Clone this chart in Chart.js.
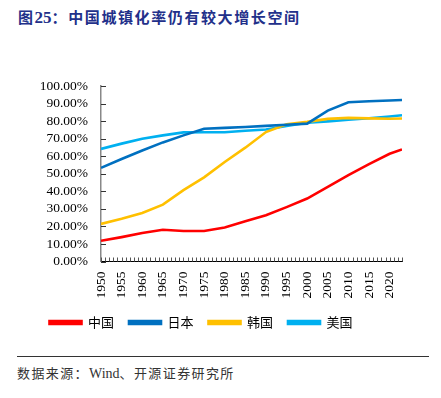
<!DOCTYPE html>
<html>
<head>
<meta charset="utf-8">
<script src="https://cdn.jsdelivr.net/npm/chart.js@4/dist/chart.umd.min.js"></script>
<style>
  html, body { margin: 0; padding: 0; background: #fff; }
  body { width: 441px; height: 398px; position: relative; overflow: hidden; }
  #title { position: absolute; left: 18px; top: 6px; font: bold 15px "Noto Sans CJK SC", sans-serif; color: #22308a; letter-spacing: 1.6px; white-space: nowrap; }
  #title .num { font-family: "Liberation Serif", serif; font-size: 17px; letter-spacing: 0; }
  #wrap { position: absolute; left: 0; top: 65px; width: 441px; height: 274px; }
  #rule { position: absolute; left: 17px; top: 356px; width: 412px; height: 0; border-top: 1px solid #333; }
  #src { position: absolute; left: 17px; top: 363px; font: 13px "Noto Sans CJK SC", sans-serif; color: #333; letter-spacing: 1.4px; white-space: nowrap; }
  #src .en { font-family: "Liberation Serif", serif; font-size: 14px; letter-spacing: 0; }
</style>
</head>
<body>
<div id="title">图<span class="num">25</span>：中国城镇化率仍有较大增长空间</div>
<div id="wrap"><canvas id="c"></canvas></div>
<div id="rule"></div>
<div id="src">数据来源：<span class="en">Wind</span>、开源证券研究所</div>
<script>
const years = [1950, 1955, 1960, 1965, 1970, 1975, 1980, 1985, 1990, 1995, 2000, 2005, 2010, 2015, 2020, 2023];
const china = [11.8, 13.9, 16.2, 18.1, 17.4, 17.4, 19.4, 22.9, 26.4, 31.0, 35.9, 42.5, 49.2, 55.5, 61.4, 63.9];
const japan = [53.4, 58.4, 63.3, 67.9, 71.9, 75.7, 76.2, 76.7, 77.3, 78.0, 78.6, 86.0, 90.8, 91.4, 91.8, 92.1];
const korea = [21.4, 24.4, 27.7, 32.4, 40.7, 48.0, 56.7, 64.9, 73.8, 78.2, 79.6, 81.3, 81.9, 81.6, 81.4, 81.5];
const usa   = [64.2, 67.2, 70.0, 71.9, 73.6, 73.7, 73.7, 74.5, 75.3, 77.3, 79.1, 79.9, 80.8, 81.7, 82.7, 83.4];
const seriesNames = ['中国', '日本', '韩国', '美国'];
const seriesColors = ['#FF0000', '#0070C0', '#FFC000', '#00B0F0'];
const yTicks = [0, 10, 20, 30, 40, 50, 60, 70, 80, 90, 100];

const toPts = arr => arr.map((v, i) => ({ x: years[i], y: v }));
const allSeries = [china, japan, korea, usa];

// inward tick marks drawn at the scales' own tick positions
const inwardTicks = {
  id: 'inwardTicks',
  afterDatasetsDraw(chart) {
    const { ctx, scales: { x, y } } = chart;
    ctx.save();
    ctx.lineWidth = 1;
    ctx.strokeStyle = '#333';
    y.ticks.forEach(t => {
      const py = Math.round(y.getPixelForValue(t.value)) + 0.5;
      ctx.beginPath();
      ctx.moveTo(y.right, py);
      ctx.lineTo(y.right + 5, py);
      ctx.stroke();
    });
    ctx.strokeStyle = '#555';
    x.ticks.forEach(t => {
      const px = Math.round(x.getPixelForValue(t.value)) + 0.5;
      ctx.beginPath();
      ctx.moveTo(px, x.top);
      ctx.lineTo(px, x.top - 4);
      ctx.stroke();
    });
    ctx.restore();
  }
};

new Chart(document.getElementById('c'), {
  type: 'line',
  data: {
    datasets: allSeries.map((s, i) => ({
      label: seriesNames[i],
      data: toPts(s),
      borderColor: seriesColors[i],
      backgroundColor: seriesColors[i],
      borderWidth: 2.6,
      pointRadius: 0,
      tension: 0,
      fill: false
    }))
  },
  plugins: [inwardTicks],
  options: {
    responsive: true,
    maintainAspectRatio: false,
    animation: false,
    layout: { padding: { left: 0, right: 39, top: 0, bottom: 0 } },
    plugins: {
      tooltip: { enabled: false },
      legend: {
        position: 'bottom',
        labels: {
          boxWidth: 32,
          boxHeight: 3,
          padding: 15,
          color: '#000',
          font: { family: '"Noto Sans CJK SC", sans-serif', size: 13 }
        }
      }
    },
    scales: {
      x: {
        type: 'linear',
        min: 1950,
        max: 2023,
        afterFit: s => { s.height = 39.5; },
        grid: { display: true, drawOnChartArea: false, drawTicks: false },
        border: { display: true, color: '#000', width: 1 },
        ticks: {
          stepSize: 1,
          maxTicksLimit: 200,
          autoSkip: false,
          minRotation: 90,
          maxRotation: 90,
          padding: 10,
          color: '#000',
          font: { family: '"Liberation Serif", serif', size: 13.5 },
          callback: v => (v % 5 === 0 && v <= 2020) ? String(v) : ''
        }
      },
      y: {
        min: 0,
        max: 100,
        afterFit: s => { s.width = 101; },
        grid: { display: true, drawOnChartArea: false, drawTicks: false },
        border: { display: true, color: '#888', width: 1.5 },
        ticks: {
          stepSize: 10,
          autoSkip: false,
          maxTicksLimit: 20,
          padding: 13,
          color: '#000',
          font: { family: '"Liberation Serif", serif', size: 13.5 },
          callback: v => yTicks.includes(v) ? v.toFixed(2) + '%' : ''
        }
      }
    }
  }
});
</script>
</body>
</html>
